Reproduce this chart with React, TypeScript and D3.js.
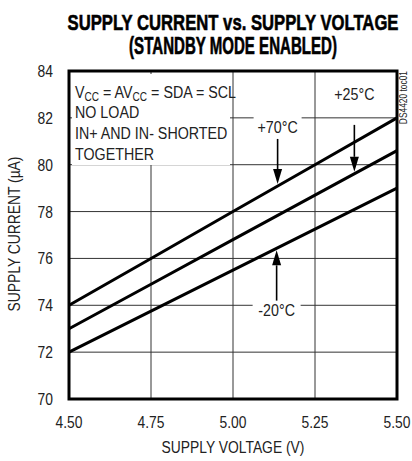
import * as d3 from 'd3';
import type { ReactNode } from 'react';

// supply voltage (V) and supply current (uA) for each temperature
const voltage = [4.5, 4.75, 5.0, 5.25, 5.5];
const currentHot = [74, 76, 78, 80, 82]; // +70C
const currentRoom = [73, 74.9, 76.8, 78.7, 80.6]; // +25C
const currentCold = [72, 73.75, 75.5, 77.25, 79]; // -20C

const xTicks = [4.5, 4.75, 5.0, 5.25, 5.5];
const yTicks = [70, 72, 74, 76, 78, 80, 82, 84];

const W = 412;
const H = 461;
const font = '"Liberation Sans", Arial, sans-serif';
const SX = 0.84; // condense the text like the datasheet font

const x = d3.scaleLinear().domain([4.5, 5.5]).range([69, 397]);
const y = d3.scaleLinear().domain([70, 84]).range([399, 71]);

const line = d3
  .line<number>()
  .x((_d, i) => x(voltage[i]))
  .y(d => y(d));

// value of a series at a given voltage
const at = (series: number[], v: number) =>
  d3.scaleLinear().domain(voltage).range(series)(v);

type TProps = {
  x: number;
  y: number;
  size?: number;
  anchor?: 'start' | 'middle' | 'end';
  rotate?: number;
  sx?: number;
  bold?: boolean;
  children: ReactNode;
};

// condensed text
const T = ({ x, y, size = 16, anchor = 'start', rotate = 0, sx = SX, bold, children }: TProps) => (
  <text
    transform={`translate(${x},${y}) rotate(${rotate}) scale(${sx},1)`}
    textAnchor={anchor}
    fontSize={size}
    fontWeight={bold ? 'bold' : 'normal'}
    fill={bold ? '#000' : '#222'}
    stroke={bold ? '#000' : 'none'}
    strokeWidth={bold ? 0.6 : 0}
  >
    {children}
  </text>
);

type Arrow = { label: string; v: number; series: number[]; textY: number; dir: 'down' | 'up'; tail: number };

const arrows: Arrow[] = [
  { label: '+25°C', v: 5.37, series: currentRoom, textY: 83, dir: 'down', tail: 81.7 },
  { label: '+70°C', v: 5.136, series: currentHot, textY: 81.6, dir: 'down', tail: 81.1 },
  { label: '-20°C', v: 5.133, series: currentCold, textY: 73.8, dir: 'up', tail: 74.2 },
];

export default function App() {
  const [x0, x1] = x.range();
  const [y0, y1] = y.range();
  return (
    <svg width={W} height={H} style={{ position: 'absolute', left: 0, top: 0, background: '#fff' }} fontFamily={font}>
      <T x={233} y={30} size={23} anchor="middle" sx={0.725} bold>
        SUPPLY CURRENT vs. SUPPLY VOLTAGE
      </T>
      <T x={233} y={54} size={23} anchor="middle" sx={0.655} bold>
        (STANDBY MODE ENABLED)
      </T>

      {/* grid */}
      {yTicks.map(t => (
        <line key={'gy' + t} x1={x0} x2={x1} y1={y(t)} y2={y(t)} stroke="#333" strokeWidth={1} />
      ))}
      {xTicks.map(t => (
        <line key={'gx' + t} x1={x(t)} x2={x(t)} y1={y0} y2={y1} stroke="#333" strokeWidth={1} />
      ))}

      {/* note box */}
      <rect x={72} y={74} width={158} height={91} fill="#fff" />
      <T x={75} y={98} size={17}>
        V<tspan fontSize={12} dy={3}>CC</tspan>
        <tspan dy={-3}> = AV</tspan>
        <tspan fontSize={12} dy={3}>CC</tspan>
        <tspan dy={-3}> = SDA = SCL</tspan>
      </T>
      <T x={75} y={118} size={17}>NO LOAD</T>
      <T x={75} y={139} size={17}>IN+ AND IN- SHORTED</T>
      <T x={75} y={160} size={17}>TOGETHER</T>

      {/* series */}
      {[currentHot, currentRoom, currentCold].map((s, i) => (
        <path key={i} d={line(s) ?? ''} fill="none" stroke="#000" strokeWidth={3} />
      ))}

      {/* arrows and labels */}
      {arrows.map(a => {
        const ax = x(a.v);
        const tip = y(at(a.series, a.v)) + (a.dir === 'down' ? -2 : 2);
        const tail = y(a.tail);
        const head = a.dir === 'down' ? -15 : 15;
        const ty = y(a.textY);
        return (
          <g key={a.label}>
            <rect x={ax - 24} y={ty - 12} width={48} height={22} fill="#fff" />
            <T x={ax} y={ty + 6} size={17} anchor="middle">
              {a.label}
            </T>
            <line x1={ax} x2={ax} y1={tail} y2={tip + head} stroke="#000" strokeWidth={1.6} />
            <path d={`M${ax},${tip}L${ax - 4.5},${tip + head}L${ax + 4.5},${tip + head}Z`} fill="#000" />
          </g>
        );
      })}

      {/* frame */}
      <rect x={x0} y={y1} width={x1 - x0} height={y0 - y1} fill="none" stroke="#000" strokeWidth={3} />

      {/* axes labels */}
      {yTicks.map(t => (
        <T key={'ty' + t} x={53} y={y(t) + 6} anchor="end" size={16.5}>
          {t}
        </T>
      ))}
      {xTicks.map(t => (
        <T key={'tx' + t} x={x(t)} y={428} anchor="middle" size={16.5}>
          {t.toFixed(2)}
        </T>
      ))}
      <T x={233} y={453} anchor="middle" size={16.5}>
        SUPPLY VOLTAGE (V)
      </T>
      <T x={20} y={234} anchor="middle" size={16.5} rotate={-90}>
        SUPPLY CURRENT (µA)
      </T>
      <T x={407} y={71} anchor="end" size={10} rotate={-90}>
        DS4420 toc01
      </T>
    </svg>
  );
}
